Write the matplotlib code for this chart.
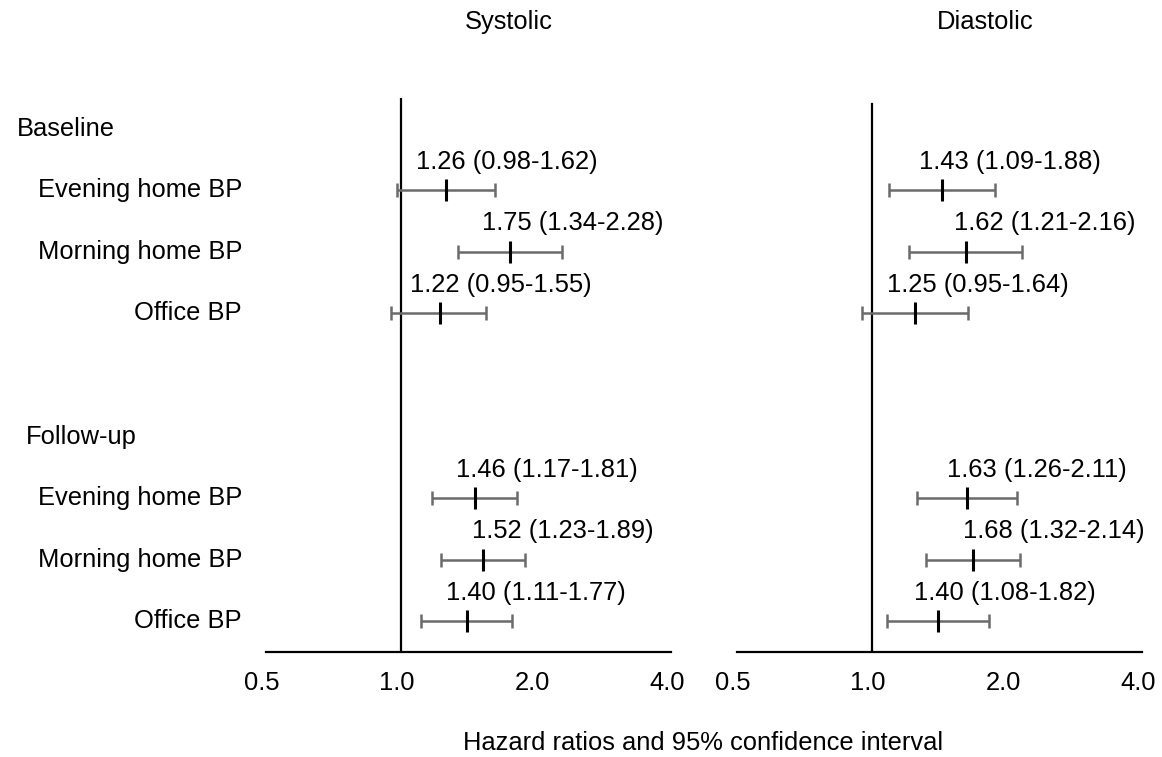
import matplotlib
matplotlib.use("Agg")
import matplotlib.pyplot as plt
import matplotlib.transforms as mtransforms
import numpy as np

plt.rcParams['font.family'] = ['Liberation Sans', 'DejaVu Sans']

# ---------------- data ----------------
panels = ["Systolic", "Diastolic"]
groups = ["Baseline", "Follow-up"]
measures = ["Evening home BP", "Morning home BP", "Office BP"]

sys_base_hr = [1.26, 1.75, 1.22]
sys_base_lo = [0.98, 1.34, 0.95]
sys_base_hi = [1.62, 2.28, 1.55]
sys_fu_hr = [1.46, 1.52, 1.40]
sys_fu_lo = [1.17, 1.23, 1.11]
sys_fu_hi = [1.81, 1.89, 1.77]

dia_base_hr = [1.43, 1.62, 1.25]
dia_base_lo = [1.09, 1.21, 0.95]
dia_base_hi = [1.88, 2.16, 1.64]
dia_fu_hr = [1.63, 1.68, 1.40]
dia_fu_lo = [1.26, 1.32, 1.08]
dia_fu_hi = [2.11, 2.14, 1.82]

xticks = [0.5, 1.0, 2.0, 4.0]
xtick_labels = ["0.5", "1.0", "2.0", "4.0"]
xlabel = "Hazard ratios and 95% confidence interval"

# ---------------- layout ----------------
W, H = 1162, 757
fig = plt.figure(figsize=(W / 100, H / 100), dpi=100)

def fx(px):
    return px / W

def fy(px):
    return 1 - px / H

top_px, bot_px = 98, 652
ax_l = fig.add_axes([fx(266), fy(bot_px), fx(671) - fx(266), fy(top_px) - fy(bot_px)])
ax_r = fig.add_axes([fx(737), fy(bot_px), fx(1142) - fx(737), fy(top_px) - fy(bot_px)])
axes = [ax_l, ax_r]

# label text left-edge offsets relative to point (pixels), per panel/group/row
text_dx = [
    [[-30, -28, -30], [-19, -11, -21]],
    [[-23, -12, -28], [-20, -10, -24]],
]
vline_top = [1.0, 0.989]

panel_data = [
    [(sys_base_hr, sys_base_lo, sys_base_hi), (sys_fu_hr, sys_fu_lo, sys_fu_hi)],
    [(dia_base_hr, dia_base_lo, dia_base_hi), (dia_fu_hr, dia_fu_lo, dia_fu_hi)],
]

header_pos = [0, 5]
FS = 18.4
bar_color = "#6b6b6b"

for pi, ax in enumerate(axes):
    ax.set_xscale('log', base=2)
    ax.set_xlim(0.5, 4.0)
    ax.set_ylim(8.5, -0.5)
    for s in ["top", "right", "left"]:
        ax.spines[s].set_visible(False)
    ax.spines["bottom"].set_linewidth(1.6)
    ax.set_yticks([])
    ax.set_xticks(xticks)
    ax.set_xticklabels(xtick_labels, fontsize=FS)
    ax.xaxis.set_minor_locator(matplotlib.ticker.NullLocator())
    ax.tick_params(axis='x', length=0, pad=14)
    for lab in ax.get_xticklabels():
        lab.set_transform(lab.get_transform() +
                          mtransforms.ScaledTranslation(-4 / 100, 0, fig.dpi_scale_trans))
    ax.axvline(1.0, ymin=0, ymax=vline_top[pi], color="black", lw=1.6, zorder=1)
    ax.patch.set_alpha(0)

    for gi, (hr, lo, hi) in enumerate(panel_data[pi]):
        ys = [header_pos[gi] + 1 + k for k in range(len(hr))]
        hr_a = np.array(hr)
        err = [hr_a - np.array(lo), np.array(hi) - hr_a]
        ax.errorbar(hr, ys, xerr=err, fmt='none', ecolor=bar_color,
                    elinewidth=1.8, capsize=5, capthick=1.8, zorder=2)
        ax.plot(hr, ys, linestyle='none', marker='|', markersize=16,
                markeredgewidth=2.2, color='black', zorder=3)
        for k in range(len(hr)):
            txt = f"{hr[k]:.2f} ({lo[k]:.2f}-{hi[k]:.2f})"
            ax.annotate(txt, xy=(hr[k], ys[k]), xytext=(text_dx[pi][gi][k], 21.5),
                        textcoords='offset pixels', ha='left', va='baseline',
                        fontsize=FS, color='black')

# row and group labels
blend = mtransforms.blended_transform_factory(fig.transFigure, ax_l.transData)
group_x = [17, 26]
for gi, g in enumerate(groups):
    fig.text(fx(group_x[gi]), header_pos[gi], g, transform=blend,
             ha='left', va='center', fontsize=FS)
    for k, m in enumerate(measures):
        fig.text(fx(242), header_pos[gi] + 1 + k, m, transform=blend,
                 ha='right', va='center', fontsize=FS)

# panel titles
fig.text(fx(509), fy(22), panels[0], ha='center', va='center', fontsize=FS)
fig.text(fx(985), fy(22), panels[1], ha='center', va='center', fontsize=FS)

# x label
fig.text(fx(703), fy(743), xlabel, ha='center', va='center', fontsize=FS)

fig.savefig("out.png", dpi=100)
